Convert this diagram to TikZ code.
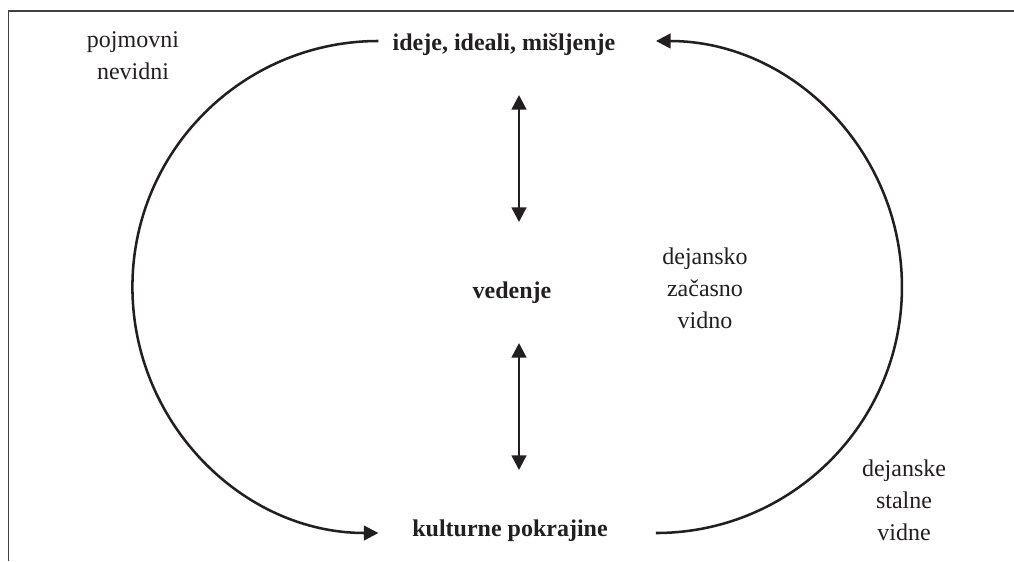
\documentclass[tikz,border=0pt]{standalone}
\usepackage{fontspec}
\setmainfont{Liberation Serif}
\usepackage{tikz}
\usetikzlibrary{
	arrows.meta,
	positioning,
	calc
}
\definecolor{ink}{HTML}{231F20}

\begin{document}
\begin{tikzpicture}[
			x=0.75pt, y=-0.75pt,
			font=\fontsize{18}{24}\selectfont,
			txt/.style={align=center, inner sep=0pt, text=ink},
			pojem/.style={txt, font=\fontsize{18}{24}\selectfont\bfseries},
			>={Triangle[length=11pt, width=11pt]},
			fl/.style={->, line width=1.9pt, draw=ink},
			okvir/.style={line width=0.9pt, draw=ink!85}
		]
		\useasboundingbox (0,0) rectangle (1014,561);

		\node[pojem] (ideje) at (504,45) {ideje, ideali, mišljenje};
		\node[pojem] (vedenje) at (512,293) {vedenje};
		\node[pojem] (kult) at (510,531) {kulturne pokrajine};

		\node[txt] (pojm) at (133,56) {pojmovni\\ nevidni};
		\node[txt] (zacasno) at (705,288) {dejansko\\ začasno\\ vidno};
		\node[txt] (stalne) at (904,500) {dejanske\\ stalne\\ vidne};

		% okvir
		\draw[okvir] (8.5,561) |- (1014,11);

		% loka
		\draw[fl] ($(ideje.west)+(-14,-4)$) arc[start angle=-90, end angle=-270, radius=246];
		\draw[fl] ($(kult.east)+(48,2)$) arc[start angle=90, end angle=-90, radius=246];

		\draw[fl, <->] ($(ideje)+(15,50)$) -- ($(vedenje)+(7,-71)$);
		\draw[fl, <->] ($(vedenje)+(7,50)$) -- ($(kult)+(9,-61)$);
	\end{tikzpicture}
\end{document}
